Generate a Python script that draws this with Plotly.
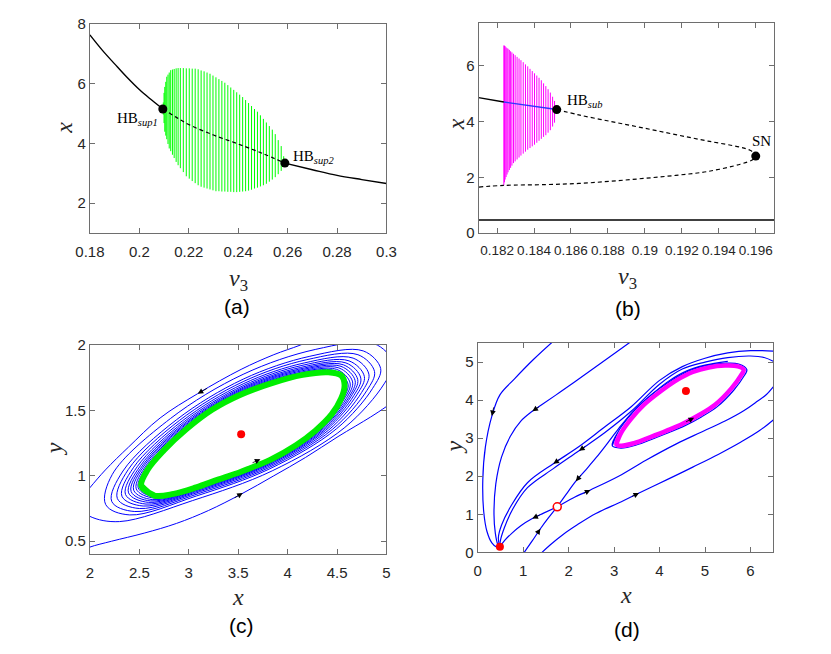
import plotly.graph_objects as go
from plotly.subplots import make_subplots

# ---------------- panel (a): bifurcation diagram, v3 in [0.18, 0.3]
a_stable1_v = [0.18, 0.185, 0.19, 0.195, 0.2, 0.205, 0.2095]
a_stable1_x = [7.63, 7.12, 6.66, 6.21, 5.80, 5.45, 5.15]
a_unstable_v = [0.2095, 0.215, 0.22, 0.23, 0.24, 0.25, 0.2589]
a_unstable_x = [5.15, 4.87, 4.63, 4.28, 3.98, 3.66, 3.34]
a_stable2_v = [0.2589, 0.27, 0.28, 0.29, 0.3]
a_stable2_x = [3.34, 3.12, 2.93, 2.79, 2.66]
a_hb_v = [0.2095, 0.2589]
a_hb_x = [5.15, 3.34]

# periodic orbits (max / min of x)
a_orbit_v = [0.2097, 0.2100, 0.2103, 0.2107, 0.2111, 0.2116, 0.2121, 0.2127, 0.2134, 0.2141,
             0.2149, 0.2157, 0.2166, 0.2178, 0.2190, 0.2202, 0.2214, 0.2226, 0.2238, 0.2250,
             0.2262, 0.2274, 0.2286, 0.2298, 0.2310, 0.2322, 0.2334, 0.2346, 0.2358, 0.2370,
             0.2382, 0.2394, 0.2406, 0.2418, 0.2430, 0.2442, 0.2454, 0.2466, 0.2478, 0.2490,
             0.2502, 0.2514, 0.2526, 0.2538, 0.2550, 0.2562, 0.2574, 0.2584]
a_orbit_max = [5.37, 5.69, 5.89, 6.06, 6.23, 6.30, 6.37, 6.45, 6.47, 6.49,
               6.51, 6.52, 6.52, 6.52, 6.51, 6.51, 6.50, 6.50, 6.48, 6.44,
               6.41, 6.37, 6.33, 6.27, 6.21, 6.15, 6.09, 6.03, 5.95, 5.87,
               5.79, 5.71, 5.63, 5.55, 5.45, 5.35, 5.25, 5.15, 5.06, 4.94,
               4.82, 4.70, 4.58, 4.46, 4.31, 4.11, 3.91, 3.57]
a_orbit_min = [4.96, 4.68, 4.39, 4.26, 4.14, 3.98, 3.83, 3.74, 3.62, 3.51,
               3.38, 3.27, 3.17, 3.04, 2.90, 2.82, 2.74, 2.67, 2.60, 2.55,
               2.52, 2.49, 2.46, 2.43, 2.40, 2.40, 2.39, 2.39, 2.38, 2.38,
               2.37, 2.37, 2.38, 2.39, 2.40, 2.42, 2.45, 2.49, 2.52, 2.56,
               2.60, 2.65, 2.72, 2.79, 2.87, 2.97, 3.08, 3.22]

# ---------------- panel (b): bifurcation diagram, v3 in [0.181, 0.197]
b_stable_v = [0.181, 0.18237]
b_stable_x = [4.86, 4.70]
b_inner_v = [0.18237, 0.18523]
b_inner_x = [4.70, 4.43]
b_unstable_v = [0.18523, 0.18642, 0.18817, 0.18992, 0.19167, 0.19341, 0.19516, 0.19569, 0.19595,
                0.196, 0.19585, 0.19516, 0.19341, 0.19167, 0.18992, 0.18817, 0.18642, 0.18467,
                0.18237, 0.181]
b_unstable_x = [4.43, 4.24, 4.00, 3.77, 3.53, 3.30, 3.08, 2.97, 2.85,
                2.76, 2.64, 2.47, 2.21, 2.07, 1.96, 1.86, 1.78, 1.74,
                1.71, 1.65]
b_low_v = [0.181, 0.197]
b_low_x = [0.47, 0.47]
b_pts_v = [0.18523, 0.196]
b_pts_x = [4.43, 2.76]

b_orbit_v = [0.182367, 0.182402, 0.182437, 0.182489, 0.182542, 0.182594, 0.182664, 0.182734,
             0.182804, 0.182891, 0.182979, 0.183084, 0.183189, 0.183293, 0.183416, 0.183538,
             0.183660, 0.183783, 0.183905, 0.184027, 0.184150, 0.184272, 0.184395, 0.184517,
             0.184639, 0.184762, 0.184884, 0.185006, 0.185111, 0.185199]
b_orbit_max = [6.73, 6.72, 6.70, 6.66, 6.63, 6.61, 6.57, 6.52, 6.48, 6.43, 6.38, 6.32, 6.26, 6.20,
               6.13, 6.05, 5.98, 5.89, 5.81, 5.73, 5.65, 5.57, 5.48, 5.37, 5.27, 5.16, 5.04, 4.89,
               4.74, 4.52]
b_orbit_min = [1.71, 1.82, 1.92, 2.01, 2.10, 2.18, 2.26, 2.34, 2.42, 2.51, 2.57, 2.64, 2.71, 2.78,
               2.85, 2.92, 2.99, 3.05, 3.11, 3.17, 3.24, 3.31, 3.38, 3.45, 3.51, 3.60, 3.69, 3.82,
               3.96, 4.29]

# ---------------- panel (c): phase portrait, one trajectory winding onto the cycle
c_traj_x = [1.90, 2.00, 2.22, 2.55, 2.876, 3.20, 3.53, 3.86, 4.18, 4.51, 4.84, 5.00, 5.20,
            5.35, 5.30, 4.90, 4.45,
            4.13, 3.86, 3.53, 3.09, 2.71, 2.39, 2.157, 2.00,
            1.86, 2.00,
            2.300, 3.036, 3.844, 4.579, 4.976, 5.064, 4.873, 4.285, 3.55, 2.815, 2.227,
            2.160, 2.403, 3.078, 3.820, 4.495, 4.860, 4.941, 4.765, 4.225, 3.55, 2.875, 2.335,
            2.221, 2.454, 3.099, 3.808, 4.453, 4.801, 4.879, 4.711, 4.195, 3.55, 2.905, 2.389,
            2.278, 2.500, 3.118, 3.797, 4.415, 4.748, 4.822, 4.662, 4.168, 3.55, 2.933, 2.439,
            2.324, 2.539, 3.134, 3.788, 4.383, 4.704, 4.776, 4.621, 4.145, 3.55, 2.955, 2.479,
            2.360, 2.568, 3.146, 3.781, 4.359, 4.670, 4.740, 4.590, 4.128, 3.55, 2.973, 2.511,
            2.391, 2.594, 3.156, 3.775, 4.338, 4.641, 4.709, 4.563, 4.113, 3.55, 2.988, 2.538,
            2.417, 2.615, 3.165, 3.770, 4.320, 4.617, 4.683, 4.540, 4.100, 3.55, 3.000, 2.560,
            2.443, 2.636, 3.174, 3.765, 4.303, 4.593, 4.657, 4.518, 4.088, 3.55, 3.013, 2.583,
            2.469, 2.658, 3.183, 3.760, 4.285, 4.569, 4.632, 4.495, 4.075, 3.55, 3.025, 2.605,
            2.489, 2.675, 3.190, 3.756, 4.271, 4.549, 4.611, 4.477, 4.065, 3.55, 3.035, 2.623,
            2.505]
c_traj_y = [0.42, 0.455, 0.50, 0.562, 0.636, 0.735, 0.86, 1.00, 1.14, 1.30, 1.45, 1.53, 1.64,
            1.85, 2.06, 2.16, 2.10,
            2.00, 1.926, 1.814, 1.628, 1.442, 1.219, 1.045, 0.909,
            0.78, 0.69,
            0.650, 0.810, 1.038, 1.370, 1.703, 1.864, 2.011, 1.967, 1.776, 1.438, 1.011,
            0.780, 0.701, 0.846, 1.054, 1.360, 1.669, 1.820, 1.955, 1.914, 1.739, 1.428, 1.037,
            0.804, 0.727, 0.864, 1.062, 1.355, 1.652, 1.797, 1.926, 1.888, 1.720, 1.423, 1.049,
            0.826, 0.750, 0.880, 1.069, 1.350, 1.637, 1.777, 1.900, 1.863, 1.703, 1.419, 1.061,
            0.844, 0.769, 0.893, 1.075, 1.346, 1.624, 1.760, 1.879, 1.844, 1.689, 1.415, 1.070,
            0.858, 0.784, 0.904, 1.080, 1.343, 1.614, 1.747, 1.863, 1.828, 1.678, 1.412, 1.077,
            0.870, 0.797, 0.913, 1.084, 1.341, 1.606, 1.736, 1.849, 1.815, 1.669, 1.410, 1.084,
            0.880, 0.808, 0.920, 1.087, 1.339, 1.598, 1.727, 1.837, 1.804, 1.661, 1.408, 1.089,
            0.890, 0.818, 0.928, 1.090, 1.337, 1.591, 1.718, 1.825, 1.793, 1.653, 1.406, 1.094,
            0.900, 0.829, 0.935, 1.093, 1.334, 1.584, 1.709, 1.814, 1.782, 1.646, 1.404, 1.100,
            0.908, 0.837, 0.941, 1.096, 1.333, 1.579, 1.701, 1.804, 1.773, 1.639, 1.402, 1.104,
            0.915]
c_cycle_x = [2.52, 2.651, 2.847, 3.075, 3.304, 3.517, 3.627, 3.824, 4.085, 4.281, 4.445, 4.543,
             4.576, 4.543, 4.412, 4.151, 3.824, 3.517, 3.239, 2.977, 2.749, 2.585, 2.52, 2.651]
c_cycle_y = [0.923, 0.849, 0.862, 0.911, 0.973, 1.027, 1.060, 1.122, 1.234, 1.345, 1.469, 1.593,
             1.693, 1.767, 1.792, 1.772, 1.705, 1.618, 1.507, 1.358, 1.196, 1.048, 0.923, 0.849]
c_eq_x = [3.53]
c_eq_y = [1.318]
c_arrow_x = [3.09, 3.546, 3.725]
c_arrow_y = [1.628, 0.869, 1.127]
c_arrow_tx = [3.20, 3.45, 3.63]
c_arrow_ty = [1.675, 0.825, 1.095]

# ---------------- panel (d): phase portrait with node, saddle and cycle
d_A_x = [1.665, 1.238, 0.811, 0.49, 0.313, 0.171, 0.114, 0.135, 0.206, 0.313, 0.42, 0.49]
d_A_y = [5.55, 5.08, 4.56, 4.14, 3.58, 2.77, 1.91, 1.06, 0.547, 0.248, 0.137, 0.145]
d_B_x = [3.35, 2.80, 2.30, 1.80, 1.40, 1.203, 0.95, 0.72, 0.527, 0.40, 0.36, 0.39, 0.44, 0.49]
d_B_y = [5.52, 5.05, 4.62, 4.20, 3.87, 3.71, 3.45, 3.05, 2.51, 1.80, 1.00, 0.50, 0.22, 0.145]
d_C_x = [6.5, 6.0, 5.5, 5.0, 4.5, 4.0, 3.37, 2.80, 2.23, 1.665, 1.096, 0.74, 0.527, 0.456, 0.49]
d_C_y = [5.29, 5.30, 5.24, 5.10, 4.88, 4.52, 3.82, 3.30, 2.78, 2.33, 1.83, 1.23, 0.718, 0.376, 0.145]
d_D_x = [6.5, 6.3, 6.0, 5.5, 5.0, 4.5, 4.0, 3.37, 2.80, 2.23, 1.665, 1.096, 0.776, 0.584, 0.498, 0.49]
d_D_y = [5.02, 5.12, 5.16, 5.12, 5.00, 4.82, 4.42, 3.70, 3.15, 2.67, 2.20, 1.70, 1.145, 0.632, 0.29, 0.145]
d_E_x = [5.5, 5.0, 4.6, 4.2, 3.8, 3.4, 3.1, 2.85, 2.6, 2.38, 2.16, 1.95, 1.751]
d_E_y = [5.02, 4.92, 4.77, 4.50, 4.12, 3.68, 3.25, 2.86, 2.48, 2.17, 1.87, 1.53, 1.197]
d_F_x = [1.751, 1.45, 1.203, 0.95, 0.75, 0.60, 0.49]
d_F_y = [1.197, 1.03, 0.889, 0.70, 0.50, 0.32, 0.145]
d_G_x = [1.751, 2.1, 2.48, 3.1, 3.7, 4.37, 4.9, 5.44, 5.85, 6.15, 6.35, 6.5]
d_G_y = [1.197, 1.43, 1.64, 2.0, 2.42, 2.85, 3.15, 3.45, 3.72, 3.97, 4.15, 4.35]
d_H_x = [1.025, 1.2, 1.38, 1.56, 1.751]
d_H_y = [0.0, 0.3, 0.62, 0.91, 1.197]
d_I_x = [1.416, 1.6, 1.88, 2.2, 2.6, 3.16, 3.55, 4.2, 4.73, 5.3, 5.79, 6.2, 6.5]
d_I_y = [0.0, 0.2, 0.47, 0.73, 1.02, 1.33, 1.56, 1.93, 2.24, 2.58, 2.90, 3.20, 3.48]
d_loop_x = [2.96, 3.10, 3.32, 3.61, 3.96, 4.33, 4.71, 5.07, 5.44, 5.74, 5.92, 5.85, 5.63, 5.27,
            4.92, 4.56, 4.21, 3.85, 3.49, 3.15, 2.96, 3.10]
d_loop_y = [2.80, 3.19, 3.55, 3.93, 4.27, 4.57, 4.80, 4.92, 4.97, 4.95, 4.80, 4.62, 4.26, 3.83,
            3.56, 3.33, 3.15, 2.98, 2.82, 2.74, 2.80, 3.19]
d_cycle_x = [3.05, 3.16, 3.37, 3.66, 4.01, 4.37, 4.73, 5.08, 5.44, 5.72, 5.85, 5.79, 5.58, 5.22,
             4.87, 4.51, 4.16, 3.80, 3.44, 3.15, 3.05, 3.16]
d_cycle_y = [2.84, 3.15, 3.50, 3.88, 4.22, 4.52, 4.74, 4.86, 4.91, 4.89, 4.80, 4.65, 4.31, 3.88,
             3.61, 3.38, 3.20, 3.03, 2.87, 2.80, 2.84, 3.15]
d_stable_eq_x = [0.49, 4.58]
d_stable_eq_y = [0.145, 4.24]
d_saddle_x = [1.751]
d_saddle_y = [1.197]
d_arrow_x = [0.313, 1.203, 2.23, 1.665, 2.16, 1.203, 1.38, 2.48, 3.55, 4.76]
d_arrow_y = [3.58, 3.71, 2.67, 2.33, 1.87, 0.889, 0.62, 1.64, 1.56, 3.54]
d_arrow_tx = [0.36, 1.38, 2.40, 1.84, 2.30, 1.40, 1.29, 2.30, 3.36, 4.55]
d_arrow_ty = [3.85, 3.85, 2.81, 2.47, 2.07, 1.00, 0.46, 1.53, 1.45, 3.41]

# page geometry: the browser body adds an 8px margin, so work in reference pixels minus 8
W, H, OFF = 815, 638, 8


def fx(p):
    return (p - OFF) / W


def fy(p):
    return 1 - (p - OFF) / H


TICK_FONT = dict(family="Liberation Sans, Arial", size=15, color="#262626")
SERIF = "Liberation Serif, Times New Roman, serif"
BLUE = "#0000ff"


def stripes(v, lo, hi):
    xs, ys = [], []
    for a, b, c in zip(v, lo, hi):
        xs += [a, a, None]
        ys += [b, c, None]
    return xs, ys


fig = make_subplots(rows=2, cols=2)

# (a)
sx, sy = stripes(a_orbit_v, a_orbit_min, a_orbit_max)
fig.add_trace(go.Scatter(x=sx, y=sy, mode="lines", line=dict(color="#00ff00", width=1)), 1, 1)
fig.add_trace(go.Scatter(x=a_stable1_v, y=a_stable1_x, mode="lines", line=dict(color="black", width=1.4, shape="spline")), 1, 1)
fig.add_trace(go.Scatter(x=a_unstable_v, y=a_unstable_x, mode="lines",
                         line=dict(color="black", width=1.2, dash="4px,3px", shape="spline")), 1, 1)
fig.add_trace(go.Scatter(x=a_stable2_v, y=a_stable2_x, mode="lines", line=dict(color="black", width=1.4, shape="spline")), 1, 1)
fig.add_trace(go.Scatter(x=a_hb_v, y=a_hb_x, mode="markers", marker=dict(color="black", size=9)), 1, 1)

# (b)
sx, sy = stripes(b_orbit_v, b_orbit_min, b_orbit_max)
fig.add_trace(go.Scatter(x=sx, y=sy, mode="lines", line=dict(color="#ff00ff", width=1)), 1, 2)
fig.add_trace(go.Scatter(x=b_stable_v, y=b_stable_x, mode="lines", line=dict(color="black", width=1.4)), 1, 2)
fig.add_trace(go.Scatter(x=b_inner_v, y=b_inner_x, mode="lines", line=dict(color="#3333ff", width=1.4)), 1, 2)
fig.add_trace(go.Scatter(x=b_unstable_v, y=b_unstable_x, mode="lines",
                         line=dict(color="black", width=1.2, dash="4px,3px", shape="spline")), 1, 2)
fig.add_trace(go.Scatter(x=b_low_v, y=b_low_x, mode="lines", line=dict(color="black", width=1.4)), 1, 2)
fig.add_trace(go.Scatter(x=b_pts_v, y=b_pts_x, mode="markers", marker=dict(color="black", size=9)), 1, 2)

# (c)
fig.add_trace(go.Scatter(x=c_traj_x, y=c_traj_y, mode="lines", line=dict(color=BLUE, width=1, shape="spline")), 2, 1)
fig.add_trace(go.Scatter(x=c_cycle_x, y=c_cycle_y, mode="lines", line=dict(color="#00ee00", width=6, shape="spline")), 2, 1)
fig.add_trace(go.Scatter(x=c_eq_x, y=c_eq_y, mode="markers", marker=dict(color="red", size=8)), 2, 1)

# (d)
for cx, cy in [(d_A_x, d_A_y), (d_B_x, d_B_y), (d_C_x, d_C_y), (d_D_x, d_D_y), (d_E_x, d_E_y),
               (d_F_x, d_F_y), (d_G_x, d_G_y), (d_H_x, d_H_y), (d_I_x, d_I_y), (d_loop_x, d_loop_y)]:
    fig.add_trace(go.Scatter(x=cx, y=cy, mode="lines", line=dict(color=BLUE, width=1.2, shape="spline")), 2, 2)
fig.add_trace(go.Scatter(x=d_cycle_x, y=d_cycle_y, mode="lines", line=dict(color="#ff00ff", width=4.5, shape="spline")), 2, 2)
fig.add_trace(go.Scatter(x=d_stable_eq_x, y=d_stable_eq_y, mode="markers", marker=dict(color="red", size=8)), 2, 2)
fig.add_trace(go.Scatter(x=d_saddle_x, y=d_saddle_y, mode="markers",
                         marker=dict(color="white", size=8, line=dict(color="red", width=1.5))), 2, 2)

# arrows on trajectories
annotations = []
for hx, hy, tx, ty in zip(c_arrow_x, c_arrow_y, c_arrow_tx, c_arrow_ty):
    annotations.append(dict(x=hx, y=hy, ax=tx, ay=ty, xref="x3", yref="y3", axref="x3", ayref="y3",
                            text="", showarrow=True, arrowhead=2, arrowsize=1.4, arrowwidth=0.8,
                            arrowcolor="black", standoff=0))
for hx, hy, tx, ty in zip(d_arrow_x, d_arrow_y, d_arrow_tx, d_arrow_ty):
    annotations.append(dict(x=hx, y=hy, ax=tx, ay=ty, xref="x4", yref="y4", axref="x4", ayref="y4",
                            text="", showarrow=True, arrowhead=2, arrowsize=1.4, arrowwidth=0.8,
                            arrowcolor="black", standoff=0))

# point labels
lab_font = dict(family=SERIF, size=15, color="black")
annotations += [
    dict(x=0.2085, y=4.83, xref="x", yref="y", text="HB<sub><i>sup1</i></sub>", showarrow=False,
         xanchor="right", yanchor="middle", font=lab_font),
    dict(x=0.2615, y=3.55, xref="x", yref="y", text="HB<sub><i>sup2</i></sub>", showarrow=False,
         xanchor="left", yanchor="middle", font=lab_font),
    dict(x=0.1857, y=4.72, xref="x2", yref="y2", text="HB<sub><i>sub</i></sub>", showarrow=False,
         xanchor="left", yanchor="middle", font=lab_font),
    dict(x=0.1963, y=3.29, xref="x2", yref="y2", text="SN", showarrow=False,
         xanchor="center", yanchor="middle", font=lab_font),
]

# axis titles and panel letters (positions in reference pixels)
title_font = dict(family=SERIF, size=24, color="#262626")
letter_font = dict(family="Liberation Sans, Arial", size=21, color="black")
for px, py, txt, ang in [(230, 278, "<i>v</i><sub>3</sub>", 0), (632, 276, "<i>v</i><sub>3</sub>", 0),
                         (230, 604, "<i>x</i>", 0), (630, 602, "<i>x</i>", 0),
                         (50, 122, "<i>x</i>", -90), (455, 118, "<i>x</i>", -90),
                         (40, 452, "<i>y</i>", -90), (453, 450, "<i>y</i>", -90)]:
    annotations.append(dict(x=fx(px), y=fy(py), xref="paper", yref="paper", text=txt,
                            xanchor="center", yanchor="middle",
                            showarrow=False, textangle=ang, font=title_font))
for px, py, txt in [(229, 305, "(a)"), (632, 307, "(b)"), (233, 633, "(c)"), (631, 637, "(d)")]:
    annotations.append(dict(x=fx(px), y=fy(py), xref="paper", yref="paper", text=txt,
                            xanchor="center", yanchor="middle", showarrow=False, font=letter_font))

axis_style = dict(showline=True, linecolor="#6e6e6e", linewidth=1, mirror="ticks", ticks="inside",
                  ticklen=5, tickcolor="#6e6e6e", showgrid=False, zeroline=False, tickfont=TICK_FONT)

fig.update_layout(
    width=W, height=H, margin=dict(l=0, r=0, t=0, b=0),
    paper_bgcolor="white", plot_bgcolor="white", showlegend=False,
    annotations=annotations,
    xaxis=dict(domain=[fx(77), fx(383)], range=[0.18, 0.3],
               tickvals=[0.18, 0.2, 0.22, 0.24, 0.26, 0.28, 0.3],
               ticktext=["0.18", "0.2", "0.22", "0.24", "0.26", "0.28", "0.3"],
               ticklabelstandoff=5, **axis_style),
    yaxis=dict(domain=[fy(230), fy(15)], range=[1, 8], tickvals=[2, 4, 6, 8], **axis_style),
    xaxis2=dict(domain=[fx(478), fx(783)], range=[0.181, 0.197],
                tickvals=[0.182, 0.184, 0.186, 0.188, 0.19, 0.192, 0.194, 0.196],
                ticktext=["0.182", "0.184", "0.186", "0.188", "0.19", "0.192", "0.194", "0.196"],
                tickangle=0, ticklabelstandoff=5, **{**axis_style, "tickfont": {**TICK_FONT, "size": 13.5}}),
    yaxis2=dict(domain=[fy(230), fy(14)], range=[0, 7.54], tickvals=[0, 2, 4, 6], **axis_style),
    xaxis3=dict(domain=[fx(77), fx(383)], range=[2, 5], tickvals=[2, 2.5, 3, 3.5, 4, 4.5, 5],
                ticktext=["2", "2.5", "3", "3.5", "4", "4.5", "5"], ticklabelstandoff=5, **axis_style),
    yaxis3=dict(domain=[fy(560), fy(345)], range=[0.4, 2], tickvals=[0.5, 1, 1.5, 2],
                ticktext=["0.5", "1", "1.5", "2"], **axis_style),
    xaxis4=dict(domain=[fx(477), fx(782)], range=[0, 6.5], tickvals=[0, 1, 2, 3, 4, 5, 6],
                ticklabelstandoff=5, **axis_style),
    yaxis4=dict(domain=[fy(558), fy(343)], range=[0, 5.5], tickvals=[0, 1, 2, 3, 4, 5], **axis_style),
)

fig.write_html("out.html")
